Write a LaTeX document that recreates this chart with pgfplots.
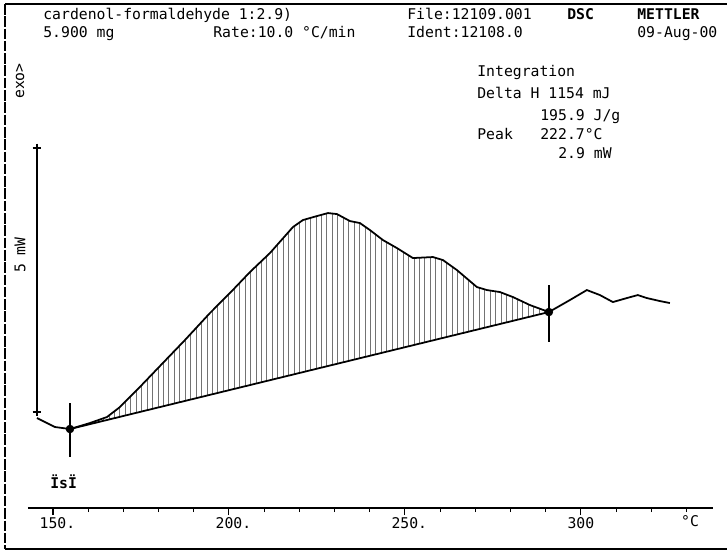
\documentclass[border=0pt]{standalone}
\usepackage{fontspec}
\setmainfont{DejaVu Sans Mono}
\usepackage{pgfplots}
\pgfplotsset{compat=1.18}
\usepgfplotslibrary{fillbetween}
\usetikzlibrary{patterns.meta}
\begin{document}
\begin{tikzpicture}[
  t/.style={anchor=base west, inner sep=0pt, font=\fontsize{8.4}{10}\selectfont}]
\begin{scope}[x=0.02cm,y=0.02cm]
\path (0,0) rectangle (728,556);
\draw[line width=0.7pt] (5,552) -- (727,552);
\draw[line width=0.7pt, dash pattern=on 6pt off 1pt] (5,552) -- (5,7);
\draw[line width=0.7pt] (5,7) -- (727,7);
% header
\node[t] at (43,537) {cardenol-formaldehyde 1:2.9)};
\node[t] at (43,519) {5.900 mg};
\node[t] at (213,519) {Rate:10.0 °C/min};
\node[t] at (407,537) {File:12109.001};
\node[t] at (567,537) {\bfseries DSC};
\node[t] at (637,537) {\bfseries METTLER};
\node[t] at (407,519) {Ident:12108.0};
\node[t] at (637,519) {09-Aug-00};
% integration block
\node[t] at (477,480) {Integration};
\node[t] at (477,458) {Delta H 1154 mJ};
\node[t] at (540,436) {195.9 J/g};
\node[t] at (477,417) {Peak};
\node[t] at (540,417) {222.7°C};
\node[t] at (558,398) {2.9 mW};
% left labels
\node[t, anchor=center, rotate=90] at (20,475) {exo>};
\node[t, anchor=center, rotate=90] at (20,301) {5 mW};
\node[t] at (50,68) {\bfseries ÏsÏ};
\node[t, anchor=center] at (690,35) {°C};
\end{scope}
\begin{axis}[at={(0.56cm,0.96cm)}, anchor=south west, scale only axis,
  width=13.7cm, height=8.96cm,
  xmin=142.9, xmax=337.5, ymin=0, ymax=448,
  axis x line=bottom, axis y line=none,
  axis line style={line width=0.8pt, -},
  xtick={150,200,250,300},
  xticklabels={150\rlap{.},200\rlap{.},250\rlap{.},300},
  minor xtick={160,170,180,190,210,220,230,240,260,270,280,290,310,320,330},
  tick align=outside, major tick length=0.14cm, minor tick length=0.08cm,
  tick style={line width=0.6pt, black},
  xticklabel style={font=\fontsize{8.4}{10}\selectfont, yshift=0.08cm},
  /pgf/number format/assume math mode=true]
\addplot[name path=curve, line width=1pt, black] coordinates {
(145.45,90) (147.73,86) (150.57,81) (154.83,79) (160.51,85) (165.34,91)
(169.03,101) (173.86,118) (180.40,142) (187.50,168) (194.60,195) (200.28,215)
(205.97,236) (211.65,255) (218.18,281) (221.02,288) (225.00,292) (228.13,295)
(230.68,294) (234.38,287) (237.22,285) (240.06,278) (243.75,268) (247.73,260)
(252.27,250) (257.95,251) (260.80,248) (264.77,238) (270.45,221) (273.30,218)
(276.99,216) (280.68,211) (285.51,203) (290.91,196) (296.88,208) (301.70,218)
(305.40,213) (309.09,206) (313.07,210) (316.19,213) (318.75,210) (322.44,207)
(325.28,205)};
\addplot[name path=base, line width=1pt, black] coordinates {(154.83,79) (290.91,196)};
\addplot[pattern={Lines[angle=90,distance=3.1pt,line width=0.45pt]}, pattern color=black!55]
  fill between[of=curve and base, soft clip={domain=154.83:290.91}];
% markers
\addplot[line width=1pt, black] coordinates {(154.83,105) (154.83,51)};
\addplot[line width=1pt, black] coordinates {(290.91,223) (290.91,166)};
\addplot[only marks, mark=*, mark size=2.2pt, black] coordinates {(154.83,79) (290.91,196)};
% scale bar
\addplot[line width=0.8pt, black, mark=+, mark size=2.5pt, mark options={line width=1pt}]
  coordinates {(145.45,360) (145.45,96)};
\end{axis}
\end{tikzpicture}
\end{document}
